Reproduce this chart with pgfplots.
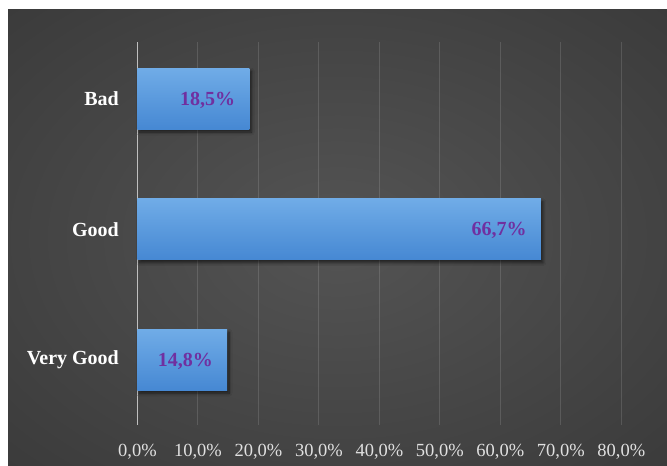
\documentclass[border=0pt]{standalone}
\usepackage{pgfplots}
\pgfplotsset{compat=1.18}
\usepackage{fontspec}
\setmainfont{Liberation Serif}
\usetikzlibrary{shadows.blur}
\definecolor{barTop}{HTML}{70ACE7}
\definecolor{barBot}{HTML}{4688D3}
\definecolor{lab}{HTML}{7030A0}
\definecolor{tickc}{HTML}{E0E0E0}
\definecolor{zeroc}{HTML}{BFBFBF}
\definecolor{bgin}{HTML}{545454}
\definecolor{bgout}{HTML}{222222}
\pgfdeclareradialshading{bgshade}{\pgfpoint{0bp}{0bp}}{color(0bp)=(bgin); color(71bp)=(bgout)}
\pgfplotsset{mybar/.style={xbar, bar width=61pt, bar shift=0pt, draw=none,
  top color=barTop, bottom color=barBot,
  blur shadow={shadow xshift=2pt, shadow yshift=-3pt, shadow blur radius=3pt, shadow blur steps=8, shadow opacity=60}}}
\begin{document}
\begin{tikzpicture}[x=1pt,y=1pt]
\path[fill=white] (0,0) rectangle (667,466);
\shade[shading=bgshade] (8,0) rectangle (667,456);
\begin{axis}[
  at={(137.5pt,41pt)}, anchor=south west,
  scale only axis, width=483.8pt, height=382.5pt,
  xmin=0, xmax=80, ymin=-0.5, ymax=2.43,
  axis line style={draw=none},
  tick style={draw=none},
  major tick length=0pt,
  xtick={0,10,20,30,40,50,60,70,80},
  xticklabels={{0,0\%},{10,0\%},{20,0\%},{30,0\%},{40,0\%},{50,0\%},{60,0\%},{70,0\%},{80,0\%}},
  xticklabel style={font=\fontsize{18.5}{20}\selectfont, text=tickc, inner sep=0pt, yshift=-19pt},
  ytick={0,1,2},
  yticklabels={Very Good,Good,Bad},
  yticklabel style={font=\fontsize{20}{22}\selectfont\bfseries, text=white, inner sep=0pt, xshift=-18.5pt},
  xmajorgrids, grid style={white, opacity=0.13, line width=1pt},
  extra x ticks={0}, extra x tick labels={},
  extra x tick style={grid style={zeroc, opacity=1, line width=1.6pt}},
  /pgf/number format/assume math mode=true,
  clip=false,
]
\addplot[mybar] coordinates {(14.8,0)};
\addplot[mybar] coordinates {(66.7,1)};
\addplot[mybar] coordinates {(18.5,2)};
\addplot[only marks, mark=none, nodes near coords, point meta=explicit symbolic,
  every node near coord/.append style={anchor=east, xshift=-14pt, yshift=-1.5pt, inner sep=0pt,
    text=lab, font=\fontsize{20}{22}\selectfont\bfseries}]
  coordinates {(14.8,0) [14,8\%] (66.7,1) [66,7\%] (18.5,2) [18,5\%]};
\end{axis}
\end{tikzpicture}
\end{document}
